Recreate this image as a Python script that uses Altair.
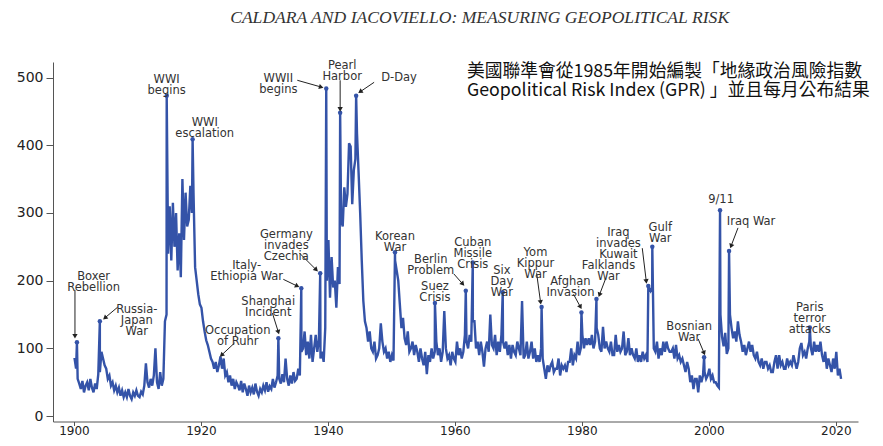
import math
import altair as alt
import pandas as pd

# ---------------- data (quarterly readings of the GPR index) ----------------
gpr_1900s = [86, 70, 55, 48, 40, 52, 35, 45, 50, 38, 55, 42, 35, 48, 40, 62,
             65, 95, 85, 75, 70, 55, 60, 45, 50, 38, 45, 35, 42, 30, 38, 28,
             35, 28, 40, 30, 25, 35, 30, 38]
gpr_1910s = [30, 28, 36, 32, 45, 78, 50, 42, 55, 45, 60, 100, 50, 40, 65, 45,
             55, 140, 150, 240, 310, 230, 315, 250, 300, 215, 270, 205,
             350, 260, 330, 280, 290, 340, 300, 330, 220, 200, 180, 165]
gpr_1920s = [160, 140, 125, 112, 105, 95, 85, 80, 70, 80, 65, 75, 88, 70, 85, 60,
             65, 50, 60, 45, 55, 40, 50, 45, 38, 52, 35, 48, 40, 30, 45, 35,
             42, 32, 48, 36, 30, 40, 35, 45]
gpr_1930s = [38, 50, 36, 44, 40, 55, 42, 50, 60, 55, 48, 62, 50, 85, 55, 45,
             60, 48, 65, 52, 55, 70, 60, 95, 100, 125, 90, 110, 85, 120, 80, 100,
             120, 95, 112, 85, 95, 80, 130, 200]
gpr_1940s = [260, 175, 235, 190, 200, 160, 220, 195, 290, 280, 338, 309,
             328, 403, 398, 313, 363, 380, 418, 360, 300, 230, 170, 140,
             130, 110, 125, 100, 95, 110, 85, 90, 100, 137, 110, 95, 100, 85, 95, 80]
gpr_1950s = [90, 82, 230, 215, 200, 165, 130, 145, 115, 105, 125, 95, 100, 110, 90, 105,
             95, 80, 100, 85, 75, 95, 62, 90, 80, 100, 85, 95, 110, 90, 100, 80,
             95, 155, 100, 85, 90, 75, 95, 85]
gpr_1960s = [80, 110, 90, 100, 85, 95, 120, 110, 100, 120, 110, 140, 140, 100, 110, 90,
             110, 95, 73, 100, 110, 95, 150, 105, 100, 120, 90, 110, 95, 120, 110, 100,
             110, 90, 105, 85, 105, 95, 90, 110]
gpr_1970s = [100, 90, 170, 85, 90, 110, 85, 95, 110, 85, 100, 80, 90, 80, 100, 85,
             70, 55, 75, 65, 75, 80, 65, 70, 70, 85, 60, 75, 70, 75, 65, 80,
             80, 100, 75, 90, 85, 110, 90, 100]
gpr_1980s = [120, 100, 115, 105, 115, 105, 120, 100, 110, 130, 120, 100, 95, 132, 100, 110,
             100, 95, 110, 90, 90, 120, 95, 105, 95, 100, 125, 90, 95, 115, 90, 100,
             90, 85, 100, 80, 90, 80, 95, 85]
gpr_1990s = [90, 80, 190, 185, 190, 100, 95, 110, 85, 100, 90, 110, 95, 110, 100, 95,
             95, 100, 85, 105, 85, 90, 80, 85, 75, 65, 80, 70, 50, 60, 40, 55,
             55, 35, 60, 50, 60, 65, 55, 60]
gpr_2000s = [70, 55, 60, 50, 50, 45, 42, 150, 117, 103, 123, 92, 100, 150, 130, 115,
             125, 110, 140, 120, 110, 95, 105, 90, 100, 110, 95, 105, 90, 85, 95, 80,
             75, 85, 70, 80, 80, 70, 75, 65]
gpr_2010s = [65, 80, 90, 70, 90, 75, 80, 70, 70, 85, 75, 80, 75, 90, 80, 70,
             80, 100, 108, 90, 95, 85, 100, 110, 100, 90, 110, 95, 105, 95, 110, 90,
             80, 95, 70, 85, 75, 65, 85, 70]
gpr_2020s = [95, 60, 70, 55]

# annotated events: date (fractional year) and peak value
event_names = ["Boxer Rebellion", "Russia-Japan War", "WWI begins", "WWI escalation",
               "Shanghai Incident", "Italy-Ethiopia War", "Germany invades Czechia",
               "WWII begins", "Pearl Harbor", "D-Day", "Korean War", "Suez Crisis",
               "Berlin Problem", "Cuban Missile Crisis", "Six Day War", "Yom Kippur War",
               "Afghan Invasion", "Falklands War", "Iraq invades Kuwait", "Gulf War",
               "Bosnian War", "9/11", "Iraq War", "Paris terror attacks"]
event_year = [1900.47, 1904.08, 1914.61, 1918.69, 1932.2, 1935.81, 1938.79, 1939.74,
              1941.93, 1944.45, 1950.57, 1956.86, 1961.72, 1962.82, 1967.54, 1973.66,
              1979.94, 1982.3, 1990.47, 1991.1, 1999.26, 2001.77, 2003.19, 2015.91]
event_value = [109, 140, 473, 409, 115, 189, 211, 484, 448, 473, 242, 167, 185, 227,
               183, 161, 153, 173, 192, 250, 87, 304, 244, 131]

# annotation labels
label_text = ["Boxer\nRebellion", "Russia-\nJapan\nWar", "WWI\nbegins", "WWI\nescalation",
              "Occupation\nof Ruhr", "Shanghai\nIncident", "Italy-\nEthiopia War",
              "Germany\ninvades\nCzechia", "WWII\nbegins", "Pearl\nHarbor", "D-Day",
              "Korean\nWar", "Berlin\nProblem", "Suez\nCrisis", "Cuban\nMissile\nCrisis",
              "Six\nDay\nWar", "Yom\nKippur\nWar", "Afghan\nInvasion", "Falklands\nWar",
              "Iraq\ninvades\nKuwait", "Gulf\nWar", "Bosnian\nWar", "9/11", "Iraq War",
              "Paris\nterror\nattacks"]
label_year = [1903.1, 1909.9, 1914.6, 1920.6, 1925.8, 1930.6, 1927.2, 1933.45, 1932.2,
              1942.25, 1951.2, 1950.57, 1956.2, 1956.86, 1962.82, 1967.4, 1972.7, 1978.2,
              1984.2, 1985.76, 1992.35, 1996.9, 2001.93, 2006.65, 2015.9]
label_value = [205, 157, 496, 433, 126, 169, 222, 268, 498, 517, 499, 264, 230, 190, 256,
               214, 241, 198, 222, 271, 278, 131, 319, 287, 160]

# arrows (start -> end)
arrow_year = [1900.16, 1906.9, 1925.3, 1931.26, 1932.98, 1935.5, 1935.18, 1941.93,
              1947.28, 1959.84, 1972.88, 1978.69, 1983.71, 1989.52, 1998.32, 2004.6]
arrow_value = [186, 161, 108, 152, 202, 241, 496, 496, 493, 210, 211, 180, 202, 248, 114, 278]
arrow_year2 = [1900.16, 1904.87, 1923.24, 1932.2, 1935.18, 1938.17, 1938.95, 1941.93,
               1945.08, 1961.25, 1973.5, 1979.79, 1982.77, 1990.15, 1999.26, 2003.5]
arrow_value2 = [118, 145, 90, 124, 192, 216, 486, 453, 479, 195, 168, 161, 179, 199, 93, 251]

x_ticks = [1900, 1920, 1940, 1960, 1980, 2000, 2020]
y_ticks = [0, 100, 200, 300, 400, 500]

title_text = "CALDARA AND IACOVIELLO: MEASURING GEOPOLITICAL RISK"
note_lines = ["美國聯準會從1985年開始編製「地緣政治風險指數",
              "Geopolitical Risk Index (GPR) 」並且每月公布結果"]

# ---------------- layout / style ----------------
X_DOMAIN = [1896.7, 2023.5]
Y_DOMAIN = [-8, 523]
W, H = 805, 359.5
BLUE = "#3453A8"
TXT = "#333333"

# ---------------- build tables ----------------
rows = []
for i, arr in enumerate([gpr_1900s, gpr_1910s, gpr_1920s, gpr_1930s, gpr_1940s,
                         gpr_1950s, gpr_1960s, gpr_1970s, gpr_1980s, gpr_1990s,
                         gpr_2000s, gpr_2010s, gpr_2020s]):
    start = 1900 + 10 * i
    for j, v in enumerate(arr):
        rows.append({"year": start + j // 4 + (3 * (j % 4) + 1) / 12, "gpr": v})
for y, v in zip(event_year, event_value):
    rows.append({"year": y, "gpr": v})
series = pd.DataFrame(rows).sort_values("year").reset_index(drop=True)

events = pd.DataFrame({"event": event_names, "year": event_year, "gpr": event_value})
labels = pd.DataFrame({"label": label_text, "year": label_year, "gpr": label_value})

pxy = W / (X_DOMAIN[1] - X_DOMAIN[0])
pxv = H / (Y_DOMAIN[1] - Y_DOMAIN[0])
angles = []
for x1, v1, x2, v2 in zip(arrow_year, arrow_value, arrow_year2, arrow_value2):
    dx = (x2 - x1) * pxy
    dy = -(v2 - v1) * pxv
    angles.append(math.degrees(math.atan2(dx, -dy)) % 360)
arrows = pd.DataFrame({"year": arrow_year, "gpr": arrow_value,
                       "year2": arrow_year2, "gpr2": arrow_value2, "angle": angles})

xs = alt.Scale(domain=X_DOMAIN, nice=False, zero=False)
ys = alt.Scale(domain=Y_DOMAIN, nice=False, zero=False)
X = alt.X("year:Q", scale=xs, title=None,
          axis=alt.Axis(values=x_ticks, format="d", title=None, grid=False,
                        tickSize=4, labelPadding=0, labelFontSize=12))
Y = alt.Y("gpr:Q", scale=ys, title=None,
          axis=alt.Axis(values=y_ticks, title=None, grid=False, tickSize=7, labelPadding=3))

line = alt.Chart(series).mark_line(color=BLUE, strokeWidth=2.4).encode(x=X, y=Y)

dots = alt.Chart(events).mark_point(filled=True, color=BLUE, size=20, opacity=1).encode(
    x=X, y=Y)

texts = alt.Chart(labels).mark_text(fontSize=11.5, lineHeight=11, lineBreak="\n",
                                    align="center", baseline="middle", color=TXT,
                                    font="DejaVu Sans").encode(
    x=X, y=Y, text="label:N")

shafts = alt.Chart(arrows).mark_rule(color="#222222", strokeWidth=1).encode(
    x=X, y=Y, x2="year2:Q", y2="gpr2:Q")

heads = alt.Chart(arrows).mark_point(shape="triangle-up", filled=True, color="#222222",
                                     size=28, opacity=1).encode(
    x=alt.X("year2:Q", scale=xs, title=None), y=alt.Y("gpr2:Q", scale=ys, title=None),
    angle=alt.Angle("angle:Q", scale=None))

title_df = pd.DataFrame({"t": [title_text], "year": [1963.9], "gpr": [588]})
title = alt.Chart(title_df).mark_text(font="Liberation Serif", fontStyle="italic",
                                      fontSize=17.6, color="#333333", align="center",
                                      baseline="middle").encode(x=X, y=Y, text="t:N")

note_df = pd.DataFrame({"t": note_lines, "year": [1961.9, 1961.9], "gpr": [508, 480]})
note = alt.Chart(note_df).mark_text(font="Noto Sans CJK TC", fontSize=17.8, color="#111111",
                                    align="left", baseline="middle").encode(
    x=X, y=Y, text="t:N")

chart = alt.layer(line, dots, shafts, heads, texts, title, note).properties(
    width=W, height=H,
    autosize=alt.AutoSizeParams(type="none"),
    padding={"left": 45, "top": 54, "right": 17, "bottom": 16.5},
).configure_view(stroke=None).configure_axis(
    domainColor="#555555", tickColor="#555555", labelColor="#222222",
    labelFont="DejaVu Sans", labelFontSize=14, domainWidth=1, tickWidth=1, title=None,
)

chart.save("out.html", embed_options={"renderer": "svg", "actions": False})
